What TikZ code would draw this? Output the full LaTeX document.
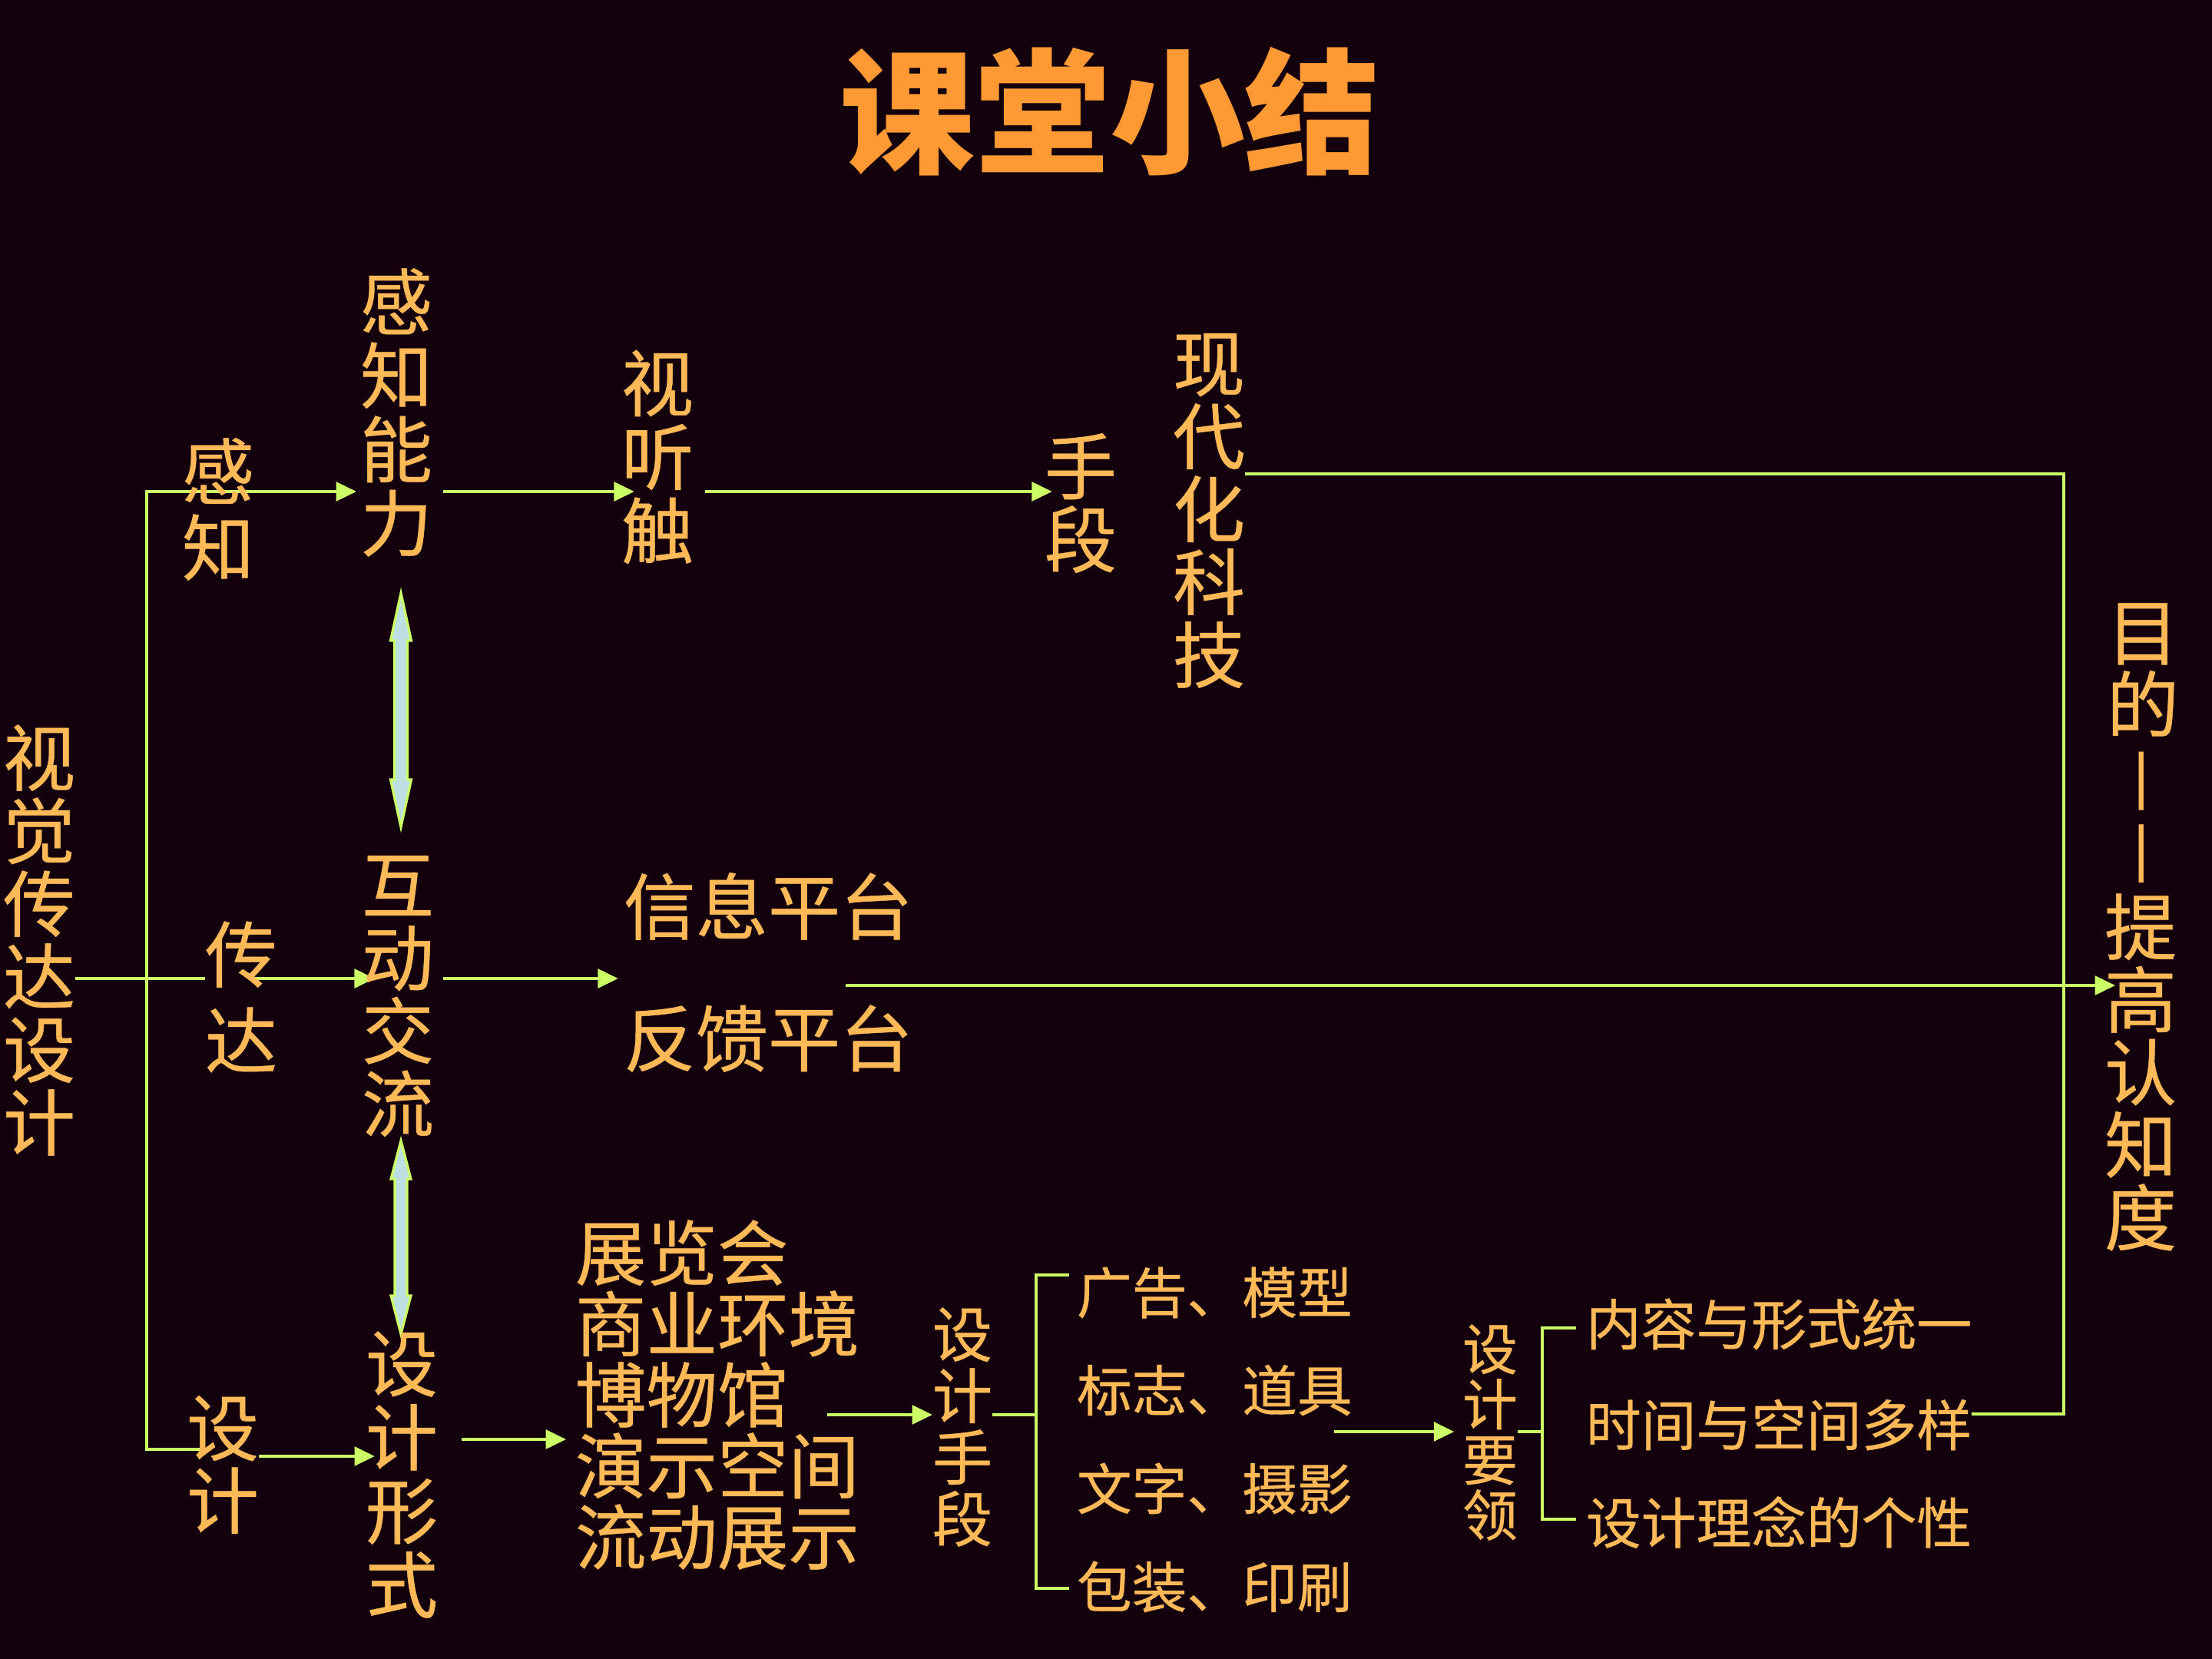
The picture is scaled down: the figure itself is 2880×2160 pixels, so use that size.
\documentclass[tikz,border=0pt]{standalone}
\usepackage{fontspec}
\setmainfont{Noto Sans CJK SC}
\newfontfamily\bodyf{Noto Sans CJK SC}[FakeBold=0.5]
\usetikzlibrary{arrows.meta,calc}
\definecolor{bgc}{HTML}{14000C}
\definecolor{txc}{HTML}{FFB957}
\definecolor{ttc}{HTML}{FF9933}
\definecolor{lnc}{HTML}{CCFF66}
\definecolor{dbc}{HTML}{BEDFE2}
\pgfdeclarelayer{bg}
\pgfdeclarelayer{lines}
\pgfsetlayers{bg,lines,main}
\begin{document}
\begin{tikzpicture}[x=0.01cm,y=-0.01cm,
  tx/.style={text=txc,inner sep=0pt,outer sep=0pt},
  vt/.style={tx,align=center},
  ln/.style={draw=lnc,line width=1.1pt},
  ar/.style={ln,-{Triangle[length=7.5pt,width=7pt]}},
  dbl/.style={draw=lnc,fill=dbc,line width=0.9pt,line join=miter},
  fbig/.style={font=\bodyf\fontsize{26.75}{27}\selectfont},
  flist/.style={font=\bodyf\fontsize{26.3}{26.3}\selectfont},
  fmid/.style={font=\bodyf\fontsize{22.2}{22.8}\selectfont},
  fsm/.style={font=\bodyf\fontsize{20.4}{20.5}\selectfont}]
\useasboundingbox (0,0) rectangle (2880,2160);
\begin{pgfonlayer}{bg}
\fill[bgc] (0,0) rectangle (2880,2160);
\end{pgfonlayer}

% title
\node[tx,text=ttc,font=\bfseries\fontsize{50}{50}\selectfont] (title) at (1445,145) {课堂小结};

% vertical texts
\node[vt,fbig] (vcsj) at (51,1224) {视\\觉\\传\\达\\设\\计};
\node[vt,font=\bodyf\fontsize{26.75}{28.2}\selectfont] (gz) at (284,663) {感\\知};
\node[vt,font=\bodyf\fontsize{26.75}{27.3}\selectfont] (gznl) at (516,537) {感\\知\\能\\力};
\node[vt,font=\bodyf\fontsize{26.75}{27.3}\selectfont] (sts) at (856,595) {视\\听\\触};
\node[vt,fbig] (sd) at (1407,655) {手\\段};
\node[vt,fbig] (xdh) at (1574,665) {现\\代\\化\\科\\技};
\node[vt,font=\bodyf\fontsize{26.75}{31.9}\selectfont] (cd) at (314,1298) {传\\达};
\node[vt,fbig] (hdjl) at (518,1297) {互\\动\\交\\流};
\node[tx,fbig] (xx) at (1000,1180) {信息平台};
\node[tx,fbig] (fk) at (1000,1352) {反馈平台};
\node[vt,fbig] (sj) at (290,1907) {设\\计};
\node[vt,font=\bodyf\fontsize{26.75}{27.3}\selectfont] (sjxs) at (523,1920) {设\\计\\形\\式};
\node[tx,flist,align=left,anchor=west] (lst) at (749,1816) {展览会\\商业环境\\博物馆\\演示空间\\流动展示};
\node[vt,fmid] (sjsd) at (1253,1858) {设\\计\\手\\段};
\node[tx,fsm,anchor=west] (i1) at (1402,1683) {广告、模型};
\node[tx,fsm,anchor=west] (i2) at (1402,1810) {标志、道具};
\node[tx,fsm,anchor=west] (i3) at (1402,1938) {文字、摄影};
\node[tx,fsm,anchor=west] (i4) at (1402,2066) {包装、印刷};
\node[vt,fsm] (sjyl) at (1940,1865) {设\\计\\要\\领};
\node[tx,fsm,anchor=west] (p1) at (2065,1724) {内容与形式统一};
\node[tx,fsm,anchor=west] (p2) at (2065,1855) {时间与空间多样};
\node[tx,fsm,anchor=west] (p3) at (2065,1982) {设计理念的个性};
\node[vt,font=\bodyf\fontsize{26.75}{26.8}\selectfont] (md) at (2790,872) {目\\的};
\node[tx,fbig,rotate=-90] (dash) at (2776,1064) {—\kern3pt—};
\node[vt,font=\bodyf\fontsize{26.75}{26.9}\selectfont] (tg) at (2787,1396) {提\\高\\认\\知\\度};

% connectors
\coordinate (blt) at (191,640);
\coordinate (blb) at (191,1887);
\coordinate (mj) at (191,1274);
\coordinate (rt) at (2687,617);
\coordinate (rb) at (2687,1841);
\coordinate (ls) at (1101,1283);
\coordinate (sy) at (0,1896);
\coordinate (ly) at (0,1874);
\coordinate (a11) at (1077,1842);
\coordinate (bt) at (1349,1660);
\coordinate (bm) at (1349,1842);
\coordinate (bb) at (1349,2068);
\coordinate (a13) at (1737,1864);
\coordinate (ct) at (2008,1729);
\coordinate (cm) at (2008,1864);
\coordinate (cb) at (2008,1978);
\coordinate (d1t) at (522,772);
\coordinate (d1b) at (522,1077);
\coordinate (d2t) at (522,1485);
\coordinate (d2b) at (522,1737);

\begin{pgfonlayer}{lines}
\draw[ar,shorten >=1.4pt,shorten <=-5pt] (sj.west |- blb) -- (blb) -- (blt) -- (gznl.west |- blt);
\draw[ar,shorten <=4pt,shorten >=-4.8pt] (gznl.east |- blt) -- (sts.west |- blt);
\draw[ar,shorten <=4.3pt,shorten >=-2.8pt] (sts.east |- blt) -- (sd.west |- blt);
\draw[ln] (xdh.east |- rt) -- (rt) -- (rb) -- (p2.east |- rb);
\draw[ln] (vcsj.east |- mj) -- (cd.west |- mj);
\draw[ar,shorten <=-9.4pt,shorten >=-4.8pt] (cd.east |- mj) -- (hdjl.west |- mj);
\draw[ar,shorten <=3.4pt,shorten >=2pt] (hdjl.east |- mj) -- (xx.west |- mj);
\draw[ar,shorten >=-4pt] (ls) -- (tg.west |- ls);
\draw[ar,shorten >=-3.4pt] (sj.east |- sy) -- (sjxs.west |- sy);
\draw[ar,shorten <=8.8pt,shorten >=3.4pt] (sjxs.east |- ly) -- (lst.west |- ly);
\draw[ar] (a11) -- (sjsd.west |- a11);
\draw[ln] (sjsd.east |- bm) -- (bm);
\draw[ln,shorten <=2.8pt,shorten >=2.8pt] (i1.west |- bt) -- (bt) -- (bb) -- (i4.west |- bb);
\draw[ar,shorten >=3.1pt] (a13) -- (sjyl.west |- a13);
\draw[ln] (sjyl.east |- cm) -- (cm);
\draw[ln,shorten <=3.7pt,shorten >=3.7pt] (p1.west |- ct) -- (ct) -- (cb) -- (p3.west |- cb);
\draw[dbl] (d1t) -- ++(13.5,62) -- ++(-5,0) -- ($(d1b)+(8.5,-62)$) -- ++(5,0) -- (d1b) -- ++(-13.5,-62) -- ++(5,0) -- ($(d1t)+(-8.5,62)$) -- ++(-5,0) -- cycle;
\draw[dbl] (d2t) -- ++(13,50) -- ++(-5,0) -- ($(d2b)+(8,-50)$) -- ++(5,0) -- (d2b) -- ++(-13,-50) -- ++(5,0) -- ($(d2t)+(-8,50)$) -- ++(-5,0) -- cycle;
\end{pgfonlayer}
\end{tikzpicture}
\end{document}
